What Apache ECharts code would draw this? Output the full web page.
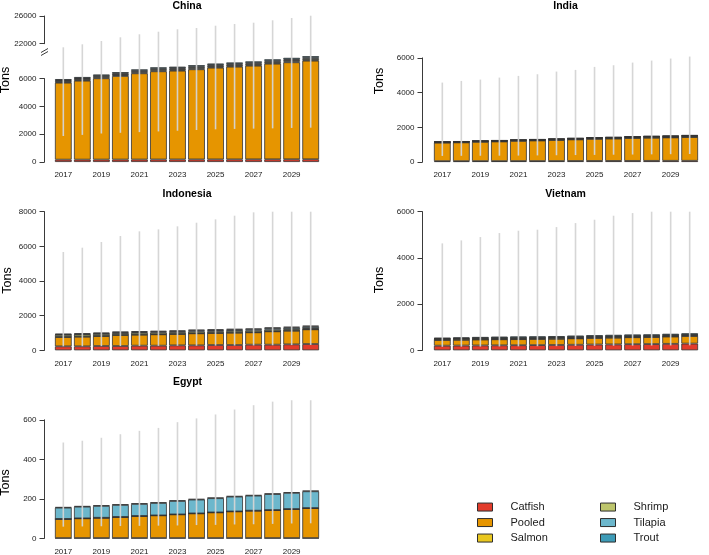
<!DOCTYPE html>
<html>
<head>
<meta charset="utf-8">
<script src="https://cdn.jsdelivr.net/npm/echarts@6/dist/echarts.min.js"></script>
<style>html,body{margin:0;padding:0;background:#fff;}#c{width:709px;height:555px;}</style>
</head>
<body>
<div id="c"></div>
<script>
const years = ['2017','2018','2019','2020','2021','2022','2023','2024','2025','2026','2027','2028','2029','2030'];
const speciesNames = ['Catfish','Pooled','Salmon','Shrimp','Tilapia','Trout'];
const speciesColors = ['#E23B2B','#E69500','#E9C71F','#BDC56C','#6CB7CC','#3D9BB7'];

// China
const chinaCatfish = [170,172,174,176,178,180,182,184,186,188,190,192,194,196];
const chinaPooled  = [5535,5677,5848,6011,6203,6345,6386,6485,6598,6668,6738,6880,6979,7092];
const chinaSalmon  = [50,51,52,53,54,55,56,57,58,59,60,61,62,63];
const chinaShrimp  = [80,81,82,83,84,85,86,87,88,89,90,91,92,93];
const chinaTilapia = [50,51,52,53,54,55,56,57,58,59,60,61,62,63];
const chinaTrout   = [80,82,84,86,88,90,92,94,96,98,100,102,104,106];
const chinaLow  = [1870,1950,2050,2100,2150,2200,2250,2300,2350,2380,2400,2420,2450,2470];
const chinaHigh = [21480,21913,22390,22924,23357,23733,24080,24267,24600,24845,25033,25380,25711,26043];

// India
const indiaCatfish = [50,50,52,52,54,55,56,58,60,62,64,66,68,70];
const indiaPooled  = [1065,1078,1113,1130,1166,1183,1214,1242,1275,1288,1321,1334,1347,1370];
const indiaSalmon  = [5,5,5,5,5,5,5,5,5,5,5,5,5,5];
const indiaShrimp  = [35,36,38,40,40,42,44,47,50,53,56,59,62,65];
const indiaTilapia = [5,5,5,5,5,5,5,5,5,5,5,5,5,5];
const indiaTrout   = [15,16,17,18,20,20,21,23,25,27,29,31,33,35];
const indiaLow  = [350,355,360,365,370,380,390,400,410,420,430,440,450,460];
const indiaHigh = [4577,4673,4750,4865,4962,5058,5212,5308,5481,5577,5731,5846,5962,6077];

// Indonesia
const indonesiaCatfish = [229,229,248,248,267,267,286,286,305,305,325,325,344,363];
const indonesiaPooled  = [538,557,576,634,634,653,654,692,692,711,711,768,788,846];
const indonesiaSalmon  = [5,5,5,5,5,5,5,5,5,5,5,5,5,5];
const indonesiaShrimp  = [120,120,115,105,105,100,100,100,100,100,95,95,90,70];
const indonesiaTilapia = [20,25,30,40,45,50,55,60,65,70,75,80,85,90];
const indonesiaTrout   = [45,45,45,45,45,45,45,45,45,45,45,45,45,45];
const indonesiaLow  = [230,235,240,245,250,255,260,265,270,275,280,290,300,310];
const indonesiaHigh = [5673,5923,6250,6596,6865,6981,7154,7365,7558,7769,7962,8000,8000,8000];

// Vietnam
const vietnamCatfish = [200,205,210,215,220,225,230,240,250,255,265,270,280,290];
const vietnamPooled  = [247,250,255,260,262,265,268,275,285,292,300,305,315,330];
const vietnamSalmon  = [3,3,3,3,3,3,3,3,3,3,3,3,3,3];
const vietnamShrimp  = [50,50,50,50,50,50,50,50,50,50,50,50,50,50];
const vietnamTilapia = [10,10,10,10,10,10,10,10,10,10,10,10,10,10];
const vietnamTrout   = [30,40,50,55,55,52,54,60,57,60,57,52,57,52];
const vietnamLow  = [150,155,160,165,170,175,180,185,190,195,200,205,210,215];
const vietnamHigh = [4629,4758,4903,5076,5177,5220,5335,5508,5652,5825,5941,6000,6000,6000];

// Egypt
const egyptCatfish = [1,1,1,1,1,1,1,1,1,1,1,1,1,1];
const egyptPooled  = [97,100,103,107,112,115,120,125,130,135,139,142,147,152];
const egyptSalmon  = [0,0,0,0,0,0,0,0,0,0,0,0,0,0];
const egyptShrimp  = [0,0,0,0,0,0,0,0,0,0,0,0,0,0];
const egyptTilapia = [57,59,60,61,61,63,68,70,72,75,76,81,82,85];
const egyptTrout   = [3,3,3,3,3,3,3,3,3,3,3,3,3,3];
const egyptLow  = [59,60,61,62,63,64,65,67,68,70,71,73,75,76];
const egyptHigh = [485,494,509,527,544,559,588,607,627,652,674,692,699,699];

const FONT = '"Liberation Sans", Arial, Helvetica, sans-serif';
const grids = [], xAxes = [], yAxes = [], series = [], graphics = [];

function addGrid(rect) {
  grids.push(Object.assign({containLabel: false, outerBoundsMode: 'none'}, rect));
  return grids.length - 1;
}

function whiskerRender(params, api) {
  const cs = params.coordSys;
  const lo = api.coord([api.value(0), api.value(1)]);
  const hi = api.coord([api.value(0), api.value(2)]);
  const yTop = cs.y, yBot = cs.y + cs.height;
  let y1 = Math.min(Math.max(lo[1], yTop), yBot);
  let y2 = Math.min(Math.max(hi[1], yTop), yBot);
  if (Math.abs(y1 - y2) < 0.01) return null;
  return {
    type: 'line',
    shape: {x1: lo[0], y1: y1, x2: hi[0], y2: y2},
    style: {stroke: 'rgba(212,212,212,0.95)', lineWidth: 1.6},
    silent: true
  };
}

function addDataGrid(opt) {
  const gi = addGrid({left: opt.left, top: opt.top, width: opt.width, height: opt.height});
  xAxes.push({
    type: 'category', gridIndex: gi, data: years, boundaryGap: true,
    axisLine: {show: false}, axisTick: {show: false},
    axisLabel: {show: opt.showLabels, interval: 1, fontSize: 8, margin: 9, color: '#1a1a1a', fontFamily: FONT}
  });
  yAxes.push({type: 'value', gridIndex: gi, min: opt.min, max: opt.max, show: false, splitLine: {show: false}});
  const ai = xAxes.length - 1;
  if (opt.stackData) {
    opt.stackData.forEach(function (arr, k) {
      series.push({
        type: 'bar', name: speciesNames[k], xAxisIndex: ai, yAxisIndex: ai,
        stack: opt.stackId, data: arr, barWidth: '88%',
        itemStyle: {color: speciesColors[k], borderColor: '#333333', borderWidth: 0.8},
        emphasis: {disabled: true}, animation: false, z: 2
      });
    });
  }
  series.push({
    type: 'custom', name: 'range', xAxisIndex: ai, yAxisIndex: ai,
    data: years.map(function (y, i) { return [i, opt.low[i], opt.high[i]]; }),
    encode: {x: 0, y: [1, 2]}, renderItem: whiskerRender, z: 5, silent: true, animation: false
  });
}

function addAxisGrid(opt) {
  const gi = addGrid({left: opt.left, top: opt.top, width: 20, height: opt.height});
  xAxes.push({type: 'category', gridIndex: gi, data: ['a'], show: false});
  yAxes.push({
    type: 'value', gridIndex: gi, min: opt.min, max: opt.max, interval: opt.interval,
    axisLine: {show: true, lineStyle: {color: '#3a3a3a', width: 1}},
    axisTick: {show: true, length: 5, lineStyle: {color: '#3a3a3a', width: 1}},
    axisLabel: {fontSize: 8, margin: 8, color: '#1a1a1a', fontFamily: FONT,
                showMinLabel: true, showMaxLabel: true,
                formatter: function (v) { return String(Math.round(v)); }},
    splitLine: {show: false}
  });
}

const LEFT_CAT = 53.8, RIGHT_CAT = 432.8, CAT_W = 266.4;
const LEFT_AX = 44.5, RIGHT_AX = 422.5;

// ---- China (broken axis) ----
(function () {
  const zero = 162, ppu = 13.9 / 1000;
  const lowTop = 53;
  const lowMax = (zero - lowTop) / ppu;
  addDataGrid({left: LEFT_CAT, width: CAT_W, top: lowTop, height: zero - lowTop, min: 0, max: lowMax,
    stackData: [chinaCatfish, chinaPooled, chinaSalmon, chinaShrimp, chinaTilapia, chinaTrout],
    low: chinaLow, high: chinaHigh, showLabels: true, stackId: 'china'});
  addAxisGrid({left: LEFT_AX, top: zero - 6000 * ppu, height: 6000 * ppu, min: 0, max: 6000, interval: 2000});
  const y22 = 43.7, y26 = 16, uppu = (y22 - y26) / 4000;
  const upTop = 13, upBot = lowTop;
  const upMin = 22000 - (upBot - y22) / uppu;
  const upMax = 22000 + (y22 - upTop) / uppu;
  addDataGrid({left: LEFT_CAT, width: CAT_W, top: upTop, height: upBot - upTop, min: upMin, max: upMax,
    stackData: null, low: chinaLow, high: chinaHigh, showLabels: false, stackId: 'chinaU'});
  addAxisGrid({left: LEFT_AX, top: y26, height: y22 - y26, min: 22000, max: 26000, interval: 4000});
  graphics.push({type: 'line', shape: {x1: 41, y1: 52.5, x2: 48, y2: 48.5}, style: {stroke: '#3a3a3a', lineWidth: 1}});
  graphics.push({type: 'line', shape: {x1: 41, y1: 55.5, x2: 48, y2: 51.5}, style: {stroke: '#3a3a3a', lineWidth: 1}});
})();

function simplePanel(p) {
  addDataGrid({left: p.catLeft, width: CAT_W, top: p.zero - p.dataMax * p.ppu, height: p.dataMax * p.ppu,
    min: 0, max: p.dataMax, stackData: p.stack, low: p.low, high: p.high, showLabels: true, stackId: p.id});
  addAxisGrid({left: p.axLeft, top: p.zero - p.tickMax * p.ppu, height: p.tickMax * p.ppu,
    min: 0, max: p.tickMax, interval: p.interval});
}

simplePanel({id: 'india', catLeft: RIGHT_CAT, axLeft: RIGHT_AX, zero: 162, ppu: 34.7 / 2000, dataMax: 6200, tickMax: 6000, interval: 2000,
  stack: [indiaCatfish, indiaPooled, indiaSalmon, indiaShrimp, indiaTilapia, indiaTrout], low: indiaLow, high: indiaHigh});
simplePanel({id: 'indonesia', catLeft: LEFT_CAT, axLeft: LEFT_AX, zero: 350.3, ppu: 138.6 / 8000, dataMax: 8000, tickMax: 8000, interval: 2000,
  stack: [indonesiaCatfish, indonesiaPooled, indonesiaSalmon, indonesiaShrimp, indonesiaTilapia, indonesiaTrout], low: indonesiaLow, high: indonesiaHigh});
simplePanel({id: 'vietnam', catLeft: RIGHT_CAT, axLeft: RIGHT_AX, zero: 350.3, ppu: 138.6 / 6000, dataMax: 6000, tickMax: 6000, interval: 2000,
  stack: [vietnamCatfish, vietnamPooled, vietnamSalmon, vietnamShrimp, vietnamTilapia, vietnamTrout], low: vietnamLow, high: vietnamHigh});
simplePanel({id: 'egypt', catLeft: LEFT_CAT, axLeft: LEFT_AX, zero: 538.3, ppu: 39.5 / 200, dataMax: 720, tickMax: 600, interval: 200,
  stack: [egyptCatfish, egyptPooled, egyptSalmon, egyptShrimp, egyptTilapia, egyptTrout], low: egyptLow, high: egyptHigh});

const titles = [['China', 187, 6], ['India', 565.5, 6], ['Indonesia', 187, 194], ['Vietnam', 565.5, 194], ['Egypt', 187.5, 382.5]];
titles.forEach(function (t) {
  graphics.push({type: 'text', x: t[1], y: t[2], style: {text: t[0], font: 'bold 10.5px ' + FONT, fill: '#000', textAlign: 'center', textVerticalAlign: 'middle'}});
});
const tonsPos = [[6, 80], [379.5, 81], [8, 280.5], [379.5, 280], [6, 482.5]];
tonsPos.forEach(function (p) {
  graphics.push({type: 'text', x: p[0], y: p[1], rotation: Math.PI / 2, style: {text: 'Tons', font: '12.5px ' + FONT, fill: '#000', textAlign: 'center', textVerticalAlign: 'middle'}});
});

const legendBase = {
  orient: 'vertical', itemWidth: 15, itemHeight: 8, itemGap: 0, icon: 'rect', selectedMode: false,
  padding: 0,
  itemStyle: {borderColor: '#2e2e2e', borderWidth: 1},
  textStyle: {fontSize: 11, lineHeight: 15.5, padding: [0, 0, 0, 13], color: '#1a1a1a', fontFamily: FONT}
};

const option = {
  animation: false,
  textStyle: {fontFamily: FONT},
  grid: grids, xAxis: xAxes, yAxis: yAxes, series: series,
  legend: [
    Object.assign({}, legendBase, {data: ['Catfish', 'Pooled', 'Salmon'], left: 477, top: 499.3}),
    Object.assign({}, legendBase, {data: ['Shrimp', 'Tilapia', 'Trout'], left: 600, top: 499.3})
  ],
  graphic: graphics
};

const chart = echarts.init(document.getElementById('c'), null, {renderer: 'canvas', width: 709, height: 555});
chart.setOption(option);
</script>
</body>
</html>
